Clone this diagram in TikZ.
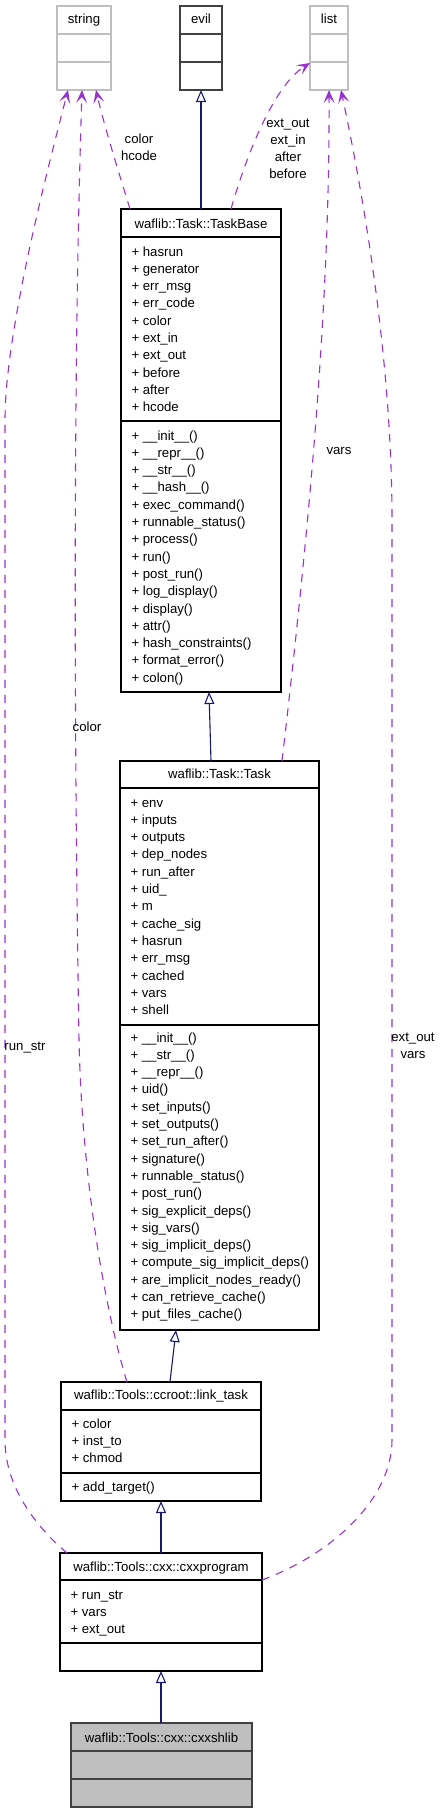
\documentclass[tikz,border=0pt]{standalone}
\usepackage{fontspec}
\setmainfont{Liberation Sans}
\usetikzlibrary{arrows.meta}
\definecolor{dpurple}{HTML}{9A32CD}
\definecolor{mblue}{HTML}{191970}
\definecolor{lgray}{HTML}{BFBFBF}
\definecolor{dgray}{HTML}{404040}
\newcommand{\fstrut}{\rule{0pt}{12pt}}
\begin{document}
\begin{tikzpicture}[x=1pt,y=-1pt,
  every node/.style={font=\fontsize{13.2}{17.3}\selectfont, inner sep=0pt, outer sep=0pt},
  box/.style={draw=black, line width=1.2pt, anchor=north west, rectangle},
  sep/.style={line width=1.2pt},
  ttl/.style={anchor=base},
  mem/.style={anchor=north west, align=left},
  inh/.style={mblue, line width=1.1pt, -{Triangle[open, length=12pt, width=10pt]}},
  use/.style={dpurple, line width=1.1pt, dash pattern=on 8pt off 7pt, -{Stealth[length=13pt,width=11pt,inset=6pt]}},
  lbl/.style={anchor=base}
]
\useasboundingbox (0,0) rectangle (441,1813);

% string
\node[box, draw=lgray, minimum width=54pt, minimum height=84pt] (string) at (57,6) {};
\draw[sep, lgray] (57,34) -- (111,34) (57,62) -- (111,62);
\node[ttl] (stringt) at (84,23) {string};
% evil
\node[box, draw=dgray, minimum width=42pt, minimum height=84pt] (evil) at (180,6) {};
\draw[sep, dgray] (180,34) -- (222,34) (180,62) -- (222,62);
\node[ttl] (evilt) at (201,23) {evil};
% list
\node[box, draw=lgray, minimum width=38pt, minimum height=84pt] (list) at (310,6) {};
\draw[sep, lgray] (310,34) -- (348,34) (310,62) -- (348,62);
\node[ttl] (listt) at (329,23) {list};

% TaskBase
\node[box, minimum width=160pt, minimum height=483pt] (taskbase) at (121,209) {};
\draw[sep] (121,237) -- (281,237) (121,421) -- (281,421);
\node[ttl] (taskbaset) at (201,228) {waflib::Task::TaskBase};
\node[mem] (taskbasea) at (131.5,244) {\fstrut+ hasrun\\+ generator\\+ err\_msg\\+ err\_code\\+ color\\+ ext\_in\\+ ext\_out\\+ before\\+ after\\+ hcode};
\node[mem] (taskbasem) at (131.5,428) {\fstrut+ \_\_init\_\_()\\+ \_\_repr\_\_()\\+ \_\_str\_\_()\\+ \_\_hash\_\_()\\+ exec\_command()\\+ runnable\_status()\\+ process()\\+ run()\\+ post\_run()\\+ log\_display()\\+ display()\\+ attr()\\+ hash\_constraints()\\+ format\_error()\\+ colon()};

% Task
\node[box, minimum width=199pt, minimum height=569pt] (task) at (120,761) {};
\draw[sep] (120,788) -- (319,788) (120,1025) -- (319,1025);
\node[ttl] (taskt) at (219.5,778) {waflib::Task::Task};
\node[mem] (taska) at (130.5,795) {\fstrut+ env\\+ inputs\\+ outputs\\+ dep\_nodes\\+ run\_after\\+ uid\_\\+ m\\+ cache\_sig\\+ hasrun\\+ err\_msg\\+ cached\\+ vars\\+ shell};
\node[mem] (taskm) at (130.5,1030) {\fstrut+ \_\_init\_\_()\\+ \_\_str\_\_()\\+ \_\_repr\_\_()\\+ uid()\\+ set\_inputs()\\+ set\_outputs()\\+ set\_run\_after()\\+ signature()\\+ runnable\_status()\\+ post\_run()\\+ sig\_explicit\_deps()\\+ sig\_vars()\\+ sig\_implicit\_deps()\\+ compute\_sig\_implicit\_deps()\\+ are\_implicit\_nodes\_ready()\\+ can\_retrieve\_cache()\\+ put\_files\_cache()};

% link_task
\node[box, minimum width=200pt, minimum height=119pt] (linktask) at (61,1382) {};
\draw[sep] (61,1410) -- (261,1410) (61,1473) -- (261,1473);
\node[ttl] (linktaskt) at (161,1399) {waflib::Tools::ccroot::link\_task};
\node[mem] (linktaska) at (71.5,1416) {\fstrut+ color\\+ inst\_to\\+ chmod};
\node[mem] (linktaskm) at (71.5,1479) {\fstrut+ add\_target()};

% cxxprogram
\node[box, minimum width=202pt, minimum height=118pt] (cxxprogram) at (60,1553) {};
\draw[sep] (60,1580) -- (262,1580) (60,1643) -- (262,1643);
\node[ttl] (cxxprogramt) at (161,1571) {waflib::Tools::cxx::cxxprogram};
\node[mem] (cxxprograma) at (70.5,1587) {\fstrut+ run\_str\\+ vars\\+ ext\_out};

% cxxshlib
\node[box, draw=dgray, fill=lgray, minimum width=181pt, minimum height=84pt] (cxxshlib) at (71,1723) {};
\draw[sep, dgray] (71,1751) -- (252,1751) (71,1779) -- (252,1779);
\node[ttl] (cxxshlibt) at (161.5,1742) {waflib::Tools::cxx::cxxshlib};

% inheritance
\draw[inh] (taskbase.north) -- (evil.south);
\draw[inh] ([xshift=-8.5pt]task.north) -- ([xshift=8pt]taskbase.south);
\draw[inh] ([xshift=9pt]linktask.north) -- ([xshift=-43.5pt]task.south);
\draw[inh] (cxxprogram.north) -- (linktask.south);
\draw[inh] ([xshift=-0.5pt]cxxshlib.north) -- (cxxprogram.south);

% usage (dashed)
\draw[use] ([xshift=7pt]cxxprogram.north west) .. controls (40,1530) and (5,1490) .. (5,1440)
  -- (5,420) .. controls (5,330) and (50,160) .. ([xshift=-16pt]string.south);
\draw[use] ([xshift=66pt]linktask.north west) .. controls (105,1310) and (82,1180) .. (79,1040)
  .. controls (75,800) and (72,400) .. ([xshift=-2pt]string.south);
\draw[use] ([xshift=9pt]taskbase.north west) .. controls (118,170) and (104,125) .. ([xshift=12pt]string.south);
\draw[use] ([xshift=110pt]taskbase.north west) .. controls (248,150) and (275,85) .. ([yshift=-15pt]list.west);
\draw[use] ([xshift=-37pt]task.north east) .. controls (310,520) and (330,300) .. (list.south);
\draw[use] ([yshift=-27pt]cxxprogram.north east) .. controls (330,1555) and (392,1500) .. (392,1440)
  -- (392,520) .. controls (392,350) and (360,180) .. ([xshift=12pt]list.south);

% labels
\node[lbl] (l1) at (25,1050) {run\_str};
\node[lbl] (l2) at (87,731) {color};
\node[lbl, align=center, anchor=north] (l3) at (139,131) {\fstrut color\\hcode};
\node[lbl, align=center, anchor=north] (l4) at (288,115) {\fstrut ext\_out\\ext\_in\\after\\before};
\node[lbl] (l5) at (339,454) {vars};
\node[lbl, align=center, anchor=north] (l6) at (413,1029) {\fstrut ext\_out\\vars};
\end{tikzpicture}
\end{document}
